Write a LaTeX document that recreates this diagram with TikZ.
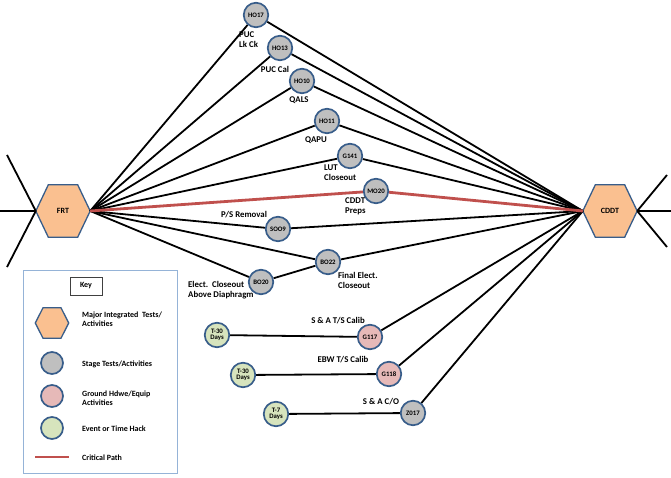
\documentclass[tikz,border=0pt]{standalone}
\usepackage{fontspec}
\setmainfont{Carlito}
\usetikzlibrary{calc,backgrounds}
\definecolor{nodeblue}{RGB}{56,93,138}
\definecolor{hexfill}{RGB}{250,192,144}
\definecolor{grayfill}{RGB}{191,191,191}
\definecolor{pinkfill}{RGB}{230,185,184}
\definecolor{greenfill}{RGB}{215,228,189}
\definecolor{critred}{RGB}{192,80,77}
\definecolor{keyborder}{RGB}{149,179,215}
\begin{document}
\begin{tikzpicture}[x=1pt,y=-1pt,
  stage/.style={circle, draw=nodeblue, line width=1.7pt, minimum size=24.5pt, inner sep=0pt,
    font=\fontsize{6.8}{7}\selectfont\bfseries, align=center},
  stagegray/.style={stage, fill=grayfill},
  stagepink/.style={stage, fill=pinkfill},
  stagegreen/.style={stage, fill=greenfill},
  hexnode/.style={minimum width=54pt, minimum height=52pt, inner sep=0pt,
    font=\fontsize{8}{8}\selectfont\bfseries},
  hexdraw/.style={draw=nodeblue, fill=hexfill, line width=1.3pt, line join=miter},
  lbl/.style={font=\fontsize{8.8}{10}\selectfont\bfseries, inner sep=0pt},
  keytxt/.style={font=\fontsize{8}{9.5}\selectfont\bfseries, inner sep=0pt, anchor=west, align=left},
  conn/.style={draw=black, line width=1.8pt},
  critpath/.style={draw=critred, line width=2.8pt},
  keybox/.style={draw=keyborder, line width=1pt, minimum width=154pt, minimum height=203pt, inner sep=0pt}
]
\useasboundingbox (0,0) rectangle (671,478);

% major nodes
\node[hexnode] (FRT) at (63,211) {FRT};
\node[hexnode] (CDDT) at (610,211) {CDDT};

% stage nodes
\node[stagegray] (HO17) at (256,15) {HO17};
\node[stagegray] (HO13) at (280,48) {HO13};
\node[stagegray] (HO10) at (302,81) {HO10};
\node[stagegray] (HO11) at (327,121) {HO11};
\node[stagegray] (G141) at (350,156) {G141};
\node[stagegray] (MO20) at (376,191) {MO20};
\node[stagegray] (SOO9) at (278,229) {SOO9};
\node[stagegray] (BO22) at (328,262) {BO22};
\node[stagegray] (BO20) at (261,282) {BO20};

\node[stagepink] (G117) at (370,337) {G117};
\node[stagepink] (G118) at (389,374) {G118};
\node[stagegray] (Z017) at (413,413) {Z017};

\node[stagegreen] (T1) at (217,335) {T-30\\[-1pt]Days};
\node[stagegreen] (T2) at (243,375) {T-30\\[-1pt]Days};
\node[stagegreen] (T3) at (276,414) {T-7\\[-1pt]Days};

% labels
\node[lbl, anchor=west, align=left] (L1) at (239,40) {PUC\\Lk Ck};
\node[lbl] (L2) at (275,69) {PUC Cal};
\node[lbl] (L3) at (299,100) {QALS};
\node[lbl] (L4) at (316,140) {QAPU};
\node[lbl, anchor=west, align=left] (L5) at (324,173) {LUT\\Closeout};
\node[lbl, anchor=west, align=left] (L6) at (345,206) {CDDT\\Preps};
\node[lbl] (L7) at (244,215) {P/S Removal};
\node[lbl, anchor=west, align=left] (L8) at (338,280) {Final Elect.\\Closeout};
\node[lbl, anchor=west, align=left] (L9) at (188,290) {Elect.\ \ Closeout\\Above Diaphragm};
\node[lbl] (L10) at (338,321) {S \& A T/S Calib};
\node[lbl] (L11) at (343,360) {EBW T/S Calib};
\node[lbl] (L12) at (381,402) {S \& A C/O};

% key
\node[keybox] (KEY) at (100,371.5) {};
\node[draw=black!75, line width=0.8pt, minimum width=32pt, minimum height=18pt, inner sep=0pt,
  font=\fontsize{8}{8}\selectfont\bfseries] (KEYT) at (86,286) {Key};
\node[hexnode, minimum width=33pt, minimum height=30pt] (KH) at (52,323) {};
\node[stagegray, minimum size=22pt] (KG) at (52,363) {};
\node[stagepink, minimum size=22pt] (KP) at (52,396) {};
\node[stagegreen, minimum size=22pt] (KE) at (52,428) {};
\coordinate (CPa) at (35,457);
\coordinate (CPb) at (69,457);
\node[keytxt] (K1) at (82,319) {Major Integrated\ \ Tests/\\Activities};
\node[keytxt] (K2) at (82,364) {Stage Tests/Activities};
\node[keytxt] (K3) at (82,398) {Ground Hdwe/Equip\\Activities};
\node[keytxt] (K4) at (82,429) {Event or Time Hack};
\node[keytxt] (K5) at (82,458) {Critical Path};

% free ends
\coordinate (FL1) at (7,155);
\coordinate (FL2) at (0,211);
\coordinate (FL3) at (7,267);
\coordinate (CR1) at (667,175);
\coordinate (CR2) at (671,211);
\coordinate (CR3) at (667,247);

\begin{scope}[on background layer]
  \foreach \n in {FRT,CDDT,KH}{
    \draw[hexdraw] (\n.west) -- ($(\n.north west)!.23!(\n.north east)$)
      -- ($(\n.north west)!.77!(\n.north east)$) -- (\n.east)
      -- ($(\n.south west)!.77!(\n.south east)$)
      -- ($(\n.south west)!.23!(\n.south east)$) -- cycle;
  }
  \foreach \m in {FL1,FL2,FL3}{ \draw[conn] (FRT.west) -- (\m); }
  \foreach \m in {CR1,CR2,CR3}{ \draw[conn] (CDDT.east) -- (\m); }
  \foreach \m in {HO17,HO13,HO10,HO11,G141,SOO9,BO22,BO20}{
    \draw[conn] (FRT.east) -- (\m);
  }
  \foreach \m in {HO17,HO13,HO10,HO11,G141,SOO9,BO22,G117,G118,Z017}{
    \draw[conn] (\m) -- (CDDT.west);
  }
  \draw[conn] (BO20) -- (BO22);
  \draw[conn] (T1) -- (G117);
  \draw[conn] (T2) -- (G118);
  \draw[conn] (T3) -- (Z017);
  \draw[critpath] (FRT.east) -- (MO20) -- (CDDT.west);
  \draw[critpath] (CPa) -- (CPb);
\end{scope}
\end{tikzpicture}
\end{document}
